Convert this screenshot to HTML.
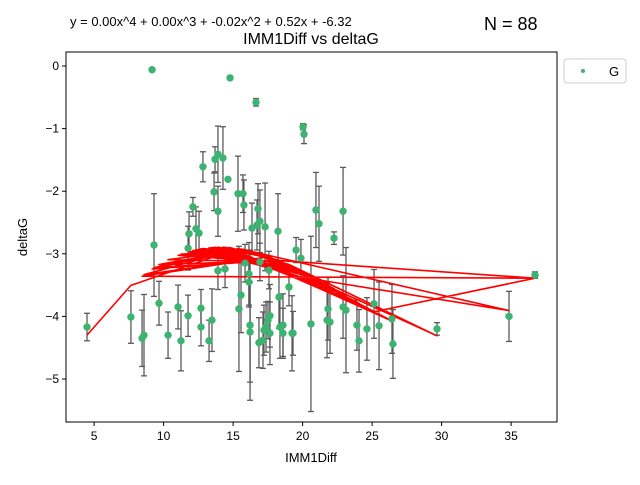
<!DOCTYPE html>
<html><head><meta charset="utf-8"><style>
body{margin:0;background:#fff;}
svg{font-family:"Liberation Sans","DejaVu Sans",sans-serif;}
</style></head><body>
<svg id="chart" width="640" height="480" viewBox="0 0 640 480">
<rect width="640" height="480" fill="#fff"/>
<text x="70" y="26" font-size="13">y = 0.00x^4 + 0.00x^3 + -0.02x^2 + 0.52x + -6.32</text>
<text x="484" y="30" font-size="18">N = 88</text>
<text x="311" y="44" font-size="16" text-anchor="middle">IMM1Diff vs deltaG</text>
<g id="grid"></g>
<g id="bars"></g>
<g id="fit"></g>
<g id="marks"></g>
<rect x="66" y="52" width="491" height="370" fill="none" stroke="#000" stroke-width="1"/>
<text x="311" y="462" font-size="13" text-anchor="middle">IMM1Diff</text>
<text x="27" y="237" font-size="13" text-anchor="middle" transform="rotate(-90 27 237)">deltaG</text>
<g>
<rect x="564" y="59" width="62" height="24" rx="3" fill="#fff" stroke="#ccc"/>
<circle cx="583" cy="71" r="2" fill="#3cb371"/>
<text x="609" y="76" font-size="13">G</text>
</g>
</svg>
<script>
const xs=[4.49,7.65,8.45,8.59,9.17,9.31,9.67,10.32,11.04,29.67,11.25,11.76,11.76,11.83,12.11,12.33,12.55,12.69,34.85,12.69,12.83,13.27,13.48,13.63,13.70,13.91,13.91,13.91,14.27,36.72,14.42,14.63,14.78,15.35,15.42,15.57,15.71,15.78,15.86,16.14,16.14,16.22,16.22,16.36,16.65,16.72,16.79,16.86,16.93,16.93,17.15,17.22,17.30,17.37,17.51,17.58,17.65,17.65,18.23,18.30,18.37,18.59,18.59,19.02,19.31,19.53,19.88,20.03,20.10,19.24,20.60,20.96,21.18,21.76,21.83,21.97,22.26,22.91,22.91,23.12,23.91,24.06,24.63,25.14,25.50,26.43,26.50,36.72];
const ys=[-4.17,-4.01,-4.35,-4.30,-0.06,-2.86,-3.79,-4.30,-3.85,-4.20,-4.39,-3.99,-2.91,-2.68,-2.25,-2.60,-2.67,-3.87,-4.00,-4.17,-1.61,-4.39,-4.06,-2.01,-1.49,-1.41,-2.32,-3.27,-1.47,-3.34,-3.24,-1.81,-0.19,-2.04,-3.88,-3.66,-2.04,-2.22,-3.15,-3.32,-3.45,-4.14,-4.25,-2.59,-0.58,-2.54,-2.28,-4.42,-3.13,-2.48,-4.38,-4.22,-2.57,-4.17,-4.06,-3.26,-3.99,-4.27,-2.64,-3.69,-4.17,-4.14,-4.27,-3.53,-4.27,-2.94,-3.07,-0.97,-1.09,-4.27,-4.12,-2.30,-2.52,-4.06,-3.88,-4.09,-2.75,-2.32,-3.85,-3.90,-4.14,-4.39,-4.20,-3.80,-4.15,-4.04,-4.44,-3.34];
const errs=[0.22,0.42,0.45,0.65,0,0.82,0.35,0.37,0.35,0.1,0.48,0.33,0.35,0.35,0.15,0.35,0.35,0.3,0.4,0.3,0.24,0.33,0.5,0.3,0.2,0.45,0.4,0.3,0.5,0.05,0.3,0,0.03,0.6,1.0,0.6,0.3,0.4,0.3,0.5,0.4,1.2,0.8,0.4,0.06,0.4,0.4,0.4,0.3,0.5,0.45,0.4,0.7,0.4,0.3,0.3,0.5,0.5,0.6,0.5,0.5,0.5,0.4,0.3,0.35,0.2,0.3,0.05,0.15,0.6,1.4,0.6,0.6,0.6,0.5,0.5,0.1,0.7,0.5,1.0,0.4,0.5,0.5,0.55,0.7,0.55,0.55,0.05];
const coef=[-6.0,0.45,-0.015,-0.0002287,0.0000097];
const xTicks=[5,10,15,20,25,30,35];
const yTicks=[0,-1,-2,-3,-4,-5];

const NS="http://www.w3.org/2000/svg";
const X=v=>24.6+v*13.9;
const Y=v=>66-v*62.6;
function mk(tag,attrs,parent){const e=document.createElementNS(NS,tag);for(const k in attrs)e.setAttribute(k,attrs[k]);parent.appendChild(e);return e;}
const grid=document.getElementById('grid'),fitG=document.getElementById('fit'),marks=document.getElementById('marks'),bars=document.getElementById('bars');
xTicks.forEach(t=>{
  const l=mk('line',{x1:X(t),x2:X(t),y1:422,y2:426,stroke:'#000'},grid);
  
  
  const tx=mk('text',{x:X(t),y:440,'font-size':12,'text-anchor':'middle'},grid);tx.textContent=t;
  
  
});
yTicks.forEach(t=>{
  const l=mk('line',{x1:62,x2:66,y1:Y(t),y2:Y(t),stroke:'#000'},grid);
  
  
  const tx=mk('text',{x:59,y:Y(t)+4,'font-size':12,'text-anchor':'end'},grid);tx.textContent=t===0?'0':'\u2212'+Math.abs(t);
  
  
});
xs.forEach((x,i)=>{
  const cx=X(x),e=errs[i];
  if(e>0){
    const g=mk('g',{stroke:'#5a5a5a','stroke-width':1.3},bars);
    
    
    mk('line',{x1:cx,x2:cx,y1:Y(ys[i]+e),y2:Y(ys[i]-e)},g);
    mk('line',{x1:cx-3,x2:cx+3,y1:Y(ys[i]+e),y2:Y(ys[i]+e)},g);
    mk('line',{x1:cx-3,x2:cx+3,y1:Y(ys[i]-e),y2:Y(ys[i]-e)},g);
  }
});
xs.forEach((x,i)=>{
  const c=mk('circle',{cx:X(x),cy:Y(ys[i]),r:3.7,fill:'#3cb371'},marks);
  
  
});
// fit evaluated in original (unsorted) sample order -> zigzag line
const f=x=>coef.reduce((s,c,i)=>s+c*Math.pow(x,i),0);
const n=xs.length;
const seq=[0,1];
for(let k=1;k<n-2;k++){seq.push(2+((k*31)%(n-3)));}
seq.push(n-1);
const pts=seq.map(i=>X(xs[i]).toFixed(1)+','+Y(f(xs[i])).toFixed(1)).join(' ');
const pl=mk('polyline',{points:pts,fill:'none',stroke:'#ff0000','stroke-width':1.6,'stroke-linejoin':'round'},fitG);


</script>
</body></html>
